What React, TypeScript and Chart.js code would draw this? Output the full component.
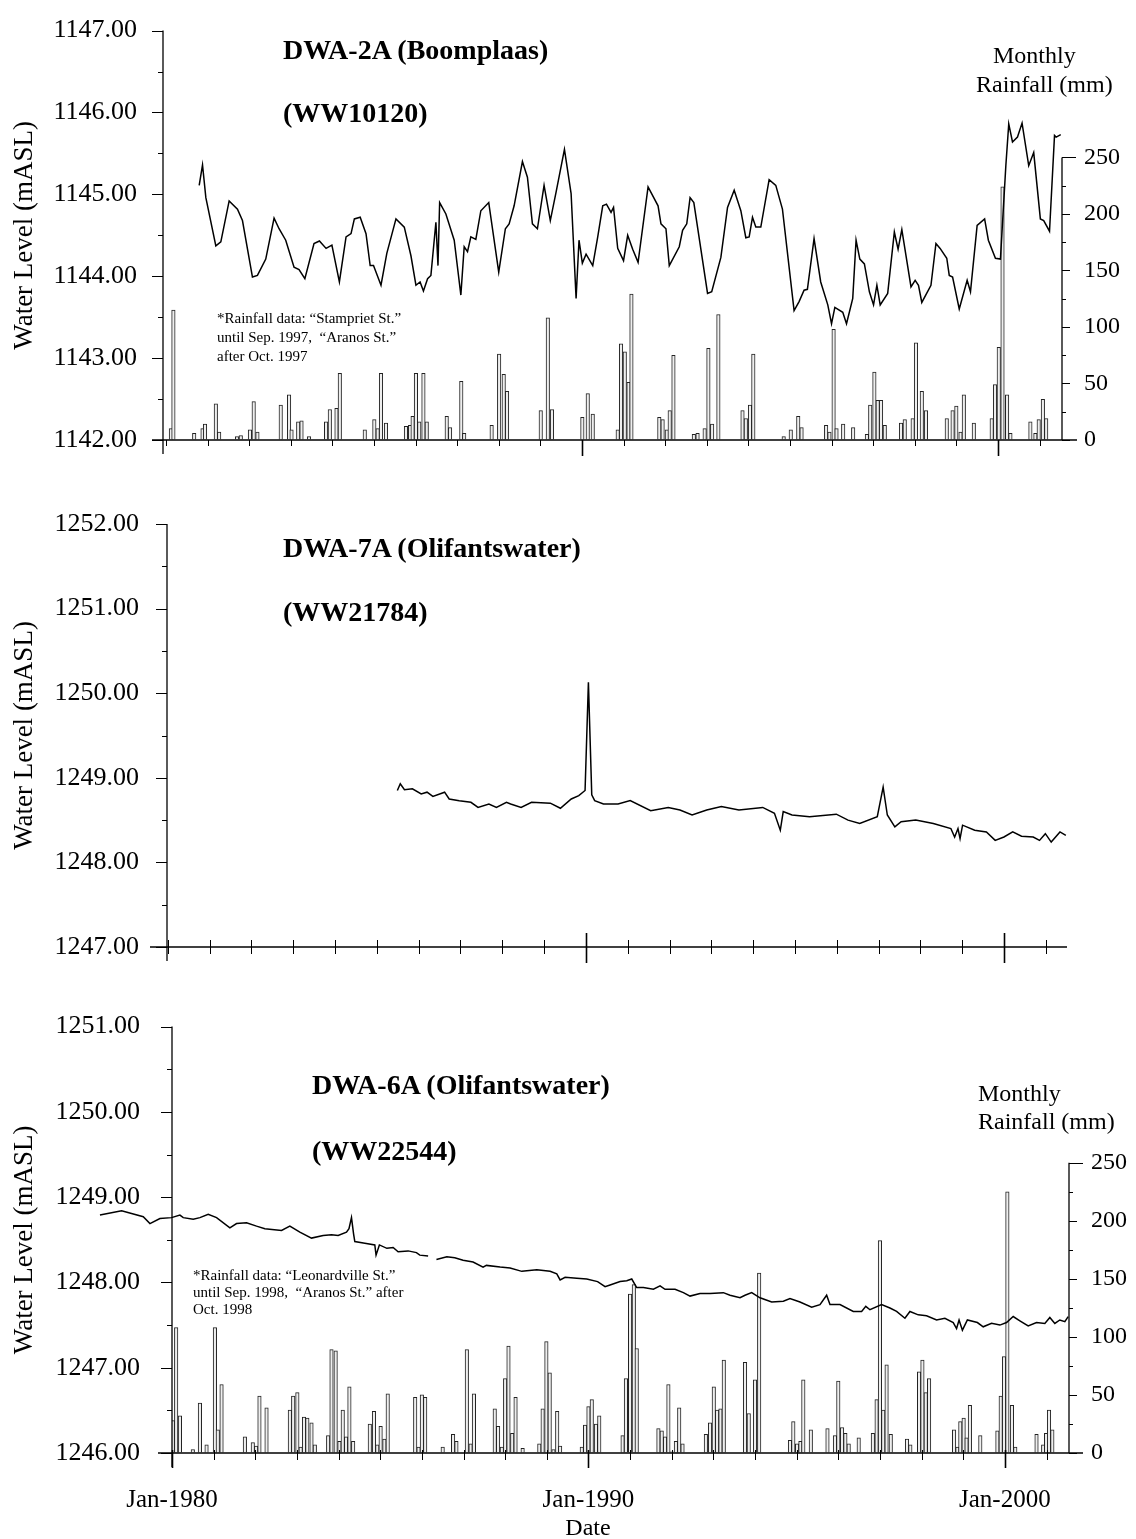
import React, { useEffect, useRef } from "react";
import { Chart, registerables } from "chart.js";

Chart.register(...registerables);

const FONT = "'Liberation Serif', 'Times New Roman', serif";

// ---------------- Panel 1: DWA-2A (Boomplaas) ----------------
const P1_LEVEL_YEARS = [
  1980.80, 1980.88, 1980.96, 1981.20, 1981.32, 1981.52, 1981.72, 1981.84, 1982.08, 1982.20,
  1982.40, 1982.60, 1982.72, 1982.88, 1983.08, 1983.20, 1983.34, 1983.56, 1983.69, 1983.85,
  1983.99, 1984.17, 1984.33, 1984.45, 1984.53, 1984.67, 1984.81, 1984.91, 1984.99, 1985.17,
  1985.31, 1985.53, 1985.73, 1985.89, 1986.01, 1986.11, 1986.19, 1986.29, 1986.37, 1986.49,
  1986.54, 1986.58, 1986.73, 1986.93, 1987.09, 1987.17, 1987.25, 1987.33, 1987.45, 1987.57,
  1987.76, 1988.00, 1988.16, 1988.25, 1988.37, 1988.57, 1988.69, 1988.81, 1988.93, 1989.09,
  1989.24, 1989.38, 1989.58, 1989.74, 1989.86, 1989.93, 1990.01, 1990.10, 1990.26, 1990.38,
  1990.50, 1990.59, 1990.70, 1990.76, 1990.86, 1991.00, 1991.10, 1991.22, 1991.35, 1991.59,
  1991.83, 1991.90, 1992.02, 1992.10, 1992.34, 1992.42, 1992.52, 1992.60, 1992.69, 1993.02,
  1993.12, 1993.34, 1993.50, 1993.66, 1993.82, 1993.94, 1994.02, 1994.10, 1994.18, 1994.30,
  1994.50, 1994.66, 1994.82, 1995.10, 1995.22, 1995.34, 1995.42, 1995.58, 1995.74, 1995.91,
  1996.00, 1996.08, 1996.27, 1996.36, 1996.51, 1996.59, 1996.68, 1996.79, 1996.91, 1997.01,
  1997.09, 1997.17, 1997.35, 1997.51, 1997.60, 1997.69, 1997.91, 1998.01, 1998.09, 1998.17,
  1998.39, 1998.51, 1998.61, 1998.77, 1998.83, 1998.91, 1999.07, 1999.26, 1999.34, 1999.50,
  1999.68, 1999.77, 1999.94, 2000.06, 2000.19, 2000.26, 2000.35, 2000.47, 2000.58, 2000.74,
  2000.86, 2001.02, 2001.10, 2001.24, 2001.36, 2001.40, 2001.51,
];
const P1_LEVEL_VALUES = [
  1145.11, 1145.36, 1144.96, 1144.37, 1144.42, 1144.92, 1144.82, 1144.68, 1143.99, 1144.01,
  1144.21, 1144.71, 1144.58, 1144.44, 1144.11, 1144.08, 1143.97, 1144.40, 1144.43, 1144.34,
  1144.38, 1143.93, 1144.48, 1144.52, 1144.70, 1144.72, 1144.52, 1144.13, 1144.13, 1143.89,
  1144.28, 1144.70, 1144.60, 1144.25, 1143.89, 1143.93, 1143.82, 1143.97, 1144.01, 1144.66,
  1144.13, 1144.90, 1144.76, 1144.44, 1143.77, 1144.36, 1144.30, 1144.48, 1144.45, 1144.80,
  1144.90, 1144.05, 1144.58, 1144.64, 1144.86, 1145.40, 1145.21, 1144.64, 1144.58, 1145.11,
  1144.68, 1145.03, 1145.55, 1145.01, 1143.73, 1144.44, 1144.16, 1144.27, 1144.13, 1144.48,
  1144.86, 1144.88, 1144.78, 1144.84, 1144.34, 1144.19, 1144.50, 1144.33, 1144.17, 1145.09,
  1144.86, 1144.64, 1144.58, 1144.13, 1144.36, 1144.56, 1144.64, 1144.96, 1144.90, 1143.79,
  1143.81, 1144.23, 1144.84, 1145.05, 1144.80, 1144.47, 1144.48, 1144.72, 1144.60, 1144.60,
  1145.18, 1145.11, 1144.82, 1143.58, 1143.69, 1143.83, 1143.84, 1144.46, 1143.93, 1143.65,
  1143.42, 1143.62, 1143.56, 1143.42, 1143.73, 1144.44, 1144.21, 1144.15, 1143.81, 1143.65,
  1143.89, 1143.65, 1143.79, 1144.54, 1144.33, 1144.57, 1143.87, 1143.95, 1143.89, 1143.68,
  1143.89, 1144.40, 1144.34, 1144.22, 1144.01, 1143.99, 1143.60, 1143.95, 1143.81, 1144.62,
  1144.70, 1144.44, 1144.22, 1144.21, 1145.35, 1145.86, 1145.64, 1145.70, 1145.87, 1145.35,
  1145.51, 1144.70, 1144.68, 1144.55, 1145.72, 1145.70, 1145.73,
];
const P1_RAIN_YEARS = [
  1980.12, 1980.18, 1980.68, 1980.88, 1980.94, 1981.20, 1981.28, 1981.71, 1981.80, 1982.02,
  1982.11, 1982.20, 1982.76, 1982.96, 1983.02, 1983.18, 1983.26, 1983.44, 1983.85, 1983.94,
  1984.10, 1984.18, 1984.78, 1985.01, 1985.09, 1985.17, 1985.29, 1985.77, 1985.87, 1985.93,
  1986.01, 1986.09, 1986.19, 1986.27, 1986.75, 1986.83, 1987.10, 1987.17, 1987.83, 1988.01,
  1988.12, 1988.20, 1989.01, 1989.18, 1989.28, 1990.01, 1990.14, 1990.26, 1990.86, 1990.94,
  1991.03, 1991.12, 1991.19, 1991.86, 1991.94, 1992.04, 1992.11, 1992.20, 1992.69, 1992.78,
  1992.95, 1993.04, 1993.13, 1993.28, 1993.86, 1993.94, 1994.04, 1994.12, 1994.85, 1995.02,
  1995.20, 1995.28, 1995.87, 1995.95, 1996.05, 1996.12, 1996.28, 1996.52, 1996.85, 1996.93,
  1997.03, 1997.11, 1997.19, 1997.28, 1997.67, 1997.76, 1997.95, 1998.03, 1998.17, 1998.27,
  1998.77, 1998.91, 1999.00, 1999.10, 1999.18, 1999.42, 1999.85, 1999.93, 2000.02, 2000.11,
  2000.22, 2000.30, 2000.78, 2000.90, 2000.98, 2001.08, 2001.16,
];
const P1_RAIN_MM = [
  10, 115, 6, 10, 14, 32, 7, 3, 4, 9,
  34, 7, 31, 40, 9, 16, 17, 3, 16, 27,
  28, 59, 9, 18, 10, 59, 15, 12, 13, 21,
  59, 16, 59, 16, 21, 11, 52, 6, 13, 76,
  58, 43, 26, 108, 27, 20, 41, 23, 9, 85,
  78, 51, 129, 20, 18, 9, 26, 75, 5, 6,
  10, 81, 14, 111, 26, 19, 31, 76, 3, 9,
  21, 11, 13, 7, 98, 10, 14, 11, 5, 31,
  60, 35, 35, 13, 15, 18, 19, 86, 43, 26,
  19, 26, 30, 7, 40, 15, 19, 49, 82, 224,
  40, 6, 16, 6, 18, 36, 19,
];

// ---------------- Panel 2: DWA-7A (Olifantswater) ----------------
const P2_LEVEL_YEARS = [
  1985.49, 1985.56, 1985.66, 1985.85, 1986.06, 1986.20, 1986.34, 1986.62, 1986.73, 1986.97,
  1987.25, 1987.42, 1987.68, 1987.86, 1988.10, 1988.20, 1988.45, 1988.70, 1989.15, 1989.39,
  1989.65, 1989.83, 1989.98, 1990.06, 1990.14, 1990.21, 1990.42, 1990.77, 1991.06, 1991.55,
  1991.97, 1992.25, 1992.54, 1992.89, 1993.24, 1993.66, 1994.23, 1994.51, 1994.65, 1994.72,
  1994.93, 1995.35, 1995.99, 1996.27, 1996.55, 1996.97, 1997.11, 1997.21, 1997.39, 1997.54,
  1997.89, 1998.31, 1998.73, 1998.82, 1998.90, 1998.95, 1999.01, 1999.30, 1999.58, 1999.79,
  2000.00, 2000.21, 2000.42, 2000.70, 2000.85, 2000.99, 2001.13, 2001.34, 2001.48,
];
const P2_LEVEL_VALUES = [
  1248.85, 1248.93, 1248.86, 1248.87, 1248.81, 1248.83, 1248.78, 1248.83, 1248.75, 1248.73,
  1248.71, 1248.65, 1248.69, 1248.65, 1248.71, 1248.69, 1248.65, 1248.71, 1248.70, 1248.64,
  1248.75, 1248.79, 1248.85, 1250.13, 1248.80, 1248.73, 1248.69, 1248.69, 1248.73, 1248.61,
  1248.65, 1248.62, 1248.56, 1248.62, 1248.66, 1248.62, 1248.65, 1248.58, 1248.38, 1248.60,
  1248.56, 1248.54, 1248.57, 1248.50, 1248.46, 1248.54, 1248.89, 1248.56, 1248.42, 1248.48,
  1248.50, 1248.46, 1248.40, 1248.30, 1248.40, 1248.28, 1248.44, 1248.38, 1248.36, 1248.26,
  1248.30, 1248.36, 1248.31, 1248.30, 1248.26, 1248.34, 1248.24, 1248.36, 1248.32,
];

// ---------------- Panel 3: DWA-6A (Olifantswater) ----------------
const P3_LEVEL_YEARS = [
  1978.27, 1978.79, 1979.31, 1979.47, 1979.71, 1979.99, 1980.19, 1980.27, 1980.51, 1980.67,
  1980.87, 1981.07, 1981.39, 1981.55, 1981.79, 1982.03, 1982.23, 1982.63, 1982.83, 1983.07,
  1983.35, 1983.63, 1983.83, 1983.99, 1984.19, 1984.25, 1984.31, 1984.36, 1984.39, 1984.63,
  1984.87, 1984.90, 1984.98, 1985.16, 1985.31, 1985.43, 1985.67, 1985.87, 1985.95, 1986.15,
  1986.25, 1986.35, 1986.60, 1986.79, 1986.99, 1987.23, 1987.47, 1987.55, 1987.88, 1988.12,
  1988.40, 1988.76, 1989.08, 1989.24, 1989.32, 1989.44, 1989.72, 1989.96, 1990.22, 1990.40,
  1990.52, 1990.76, 1990.92, 1991.04, 1991.16, 1991.32, 1991.56, 1991.72, 1991.84, 1992.08,
  1992.28, 1992.44, 1992.68, 1992.92, 1993.24, 1993.40, 1993.64, 1993.76, 1993.92, 1994.12,
  1994.40, 1994.68, 1994.84, 1995.08, 1995.36, 1995.56, 1995.72, 1995.80, 1996.04, 1996.36,
  1996.56, 1996.66, 1996.76, 1997.04, 1997.24, 1997.40, 1997.60, 1997.72, 1997.92, 1998.12,
  1998.36, 1998.56, 1998.76, 1998.84, 1998.90, 1998.98, 1999.10, 1999.34, 1999.48, 1999.68,
  1999.88, 2000.04, 2000.20, 2000.36, 2000.56, 2000.76, 2000.96, 2001.08, 2001.20, 2001.32,
  2001.44, 2001.52,
];
const P3_LEVEL_VALUES = [
  1248.79, 1248.84, 1248.77, 1248.69, 1248.75, 1248.76, 1248.79, 1248.76, 1248.74, 1248.76,
  1248.80, 1248.76, 1248.64, 1248.69, 1248.70, 1248.66, 1248.63, 1248.61, 1248.66, 1248.59,
  1248.52, 1248.55, 1248.56, 1248.55, 1248.59, 1248.63, 1248.76, 1248.57, 1248.48, 1248.46,
  1248.44, 1248.32, 1248.44, 1248.40, 1248.41, 1248.36, 1248.37, 1248.35, 1248.32, 1248.31,
  null, 1248.27, 1248.30, 1248.29, 1248.26, 1248.24, 1248.18, 1248.20, 1248.18, 1248.17,
  1248.13, 1248.15, 1248.13, 1248.10, 1248.03, 1248.06, 1248.05, 1248.04, 1248.01, 1247.95,
  1247.97, 1248.01, 1248.02, 1248.04, 1247.94, 1247.94, 1247.92, 1247.96, 1247.92, 1247.92,
  1247.88, 1247.84, 1247.87, 1247.87, 1247.88, 1247.85, 1247.82, 1247.85, 1247.88, 1247.82,
  1247.77, 1247.78, 1247.81, 1247.77, 1247.71, 1247.74, 1247.85, 1247.74, 1247.74, 1247.66,
  1247.66, 1247.72, 1247.68, 1247.74, 1247.70, 1247.66, 1247.58, 1247.66, 1247.62, 1247.61,
  1247.56, 1247.58, 1247.53, 1247.46, 1247.56, 1247.44, 1247.56, 1247.53, 1247.48, 1247.52,
  1247.50, 1247.53, 1247.60, 1247.55, 1247.49, 1247.53, 1247.52, 1247.59, 1247.52, 1247.56,
  1247.54, 1247.60,
];
const P3_RAIN_YEARS = [
  1980.02, 1980.10, 1980.19, 1980.50, 1980.67, 1980.83, 1981.03, 1981.10, 1981.19, 1981.75,
  1981.94, 1982.02, 1982.10, 1982.27, 1982.83, 1982.91, 1983.01, 1983.09, 1983.17, 1983.25,
  1983.35, 1983.43, 1983.75, 1983.83, 1983.93, 1984.02, 1984.10, 1984.18, 1984.26, 1984.35,
  1984.75, 1984.85, 1984.93, 1985.01, 1985.10, 1985.18, 1985.84, 1985.92, 1986.00, 1986.08,
  1986.50, 1986.75, 1986.83, 1987.08, 1987.17, 1987.25, 1987.75, 1987.83, 1987.92, 1988.00,
  1988.08, 1988.17, 1988.25, 1988.42, 1988.82, 1988.90, 1988.99, 1989.07, 1989.16, 1989.25,
  1989.32, 1989.84, 1989.92, 1990.00, 1990.08, 1990.18, 1990.26, 1990.82, 1990.90, 1991.00,
  1991.09, 1991.16, 1991.68, 1991.76, 1991.84, 1991.92, 1992.00, 1992.10, 1992.18, 1992.26,
  1992.82, 1992.92, 1993.01, 1993.09, 1993.17, 1993.25, 1993.76, 1993.85, 1994.00, 1994.10,
  1994.84, 1994.92, 1995.01, 1995.09, 1995.16, 1995.34, 1995.74, 1995.92, 1996.00, 1996.09,
  1996.17, 1996.25, 1996.49, 1996.83, 1996.92, 1997.00, 1997.08, 1997.16, 1997.26, 1997.65,
  1997.73, 1997.94, 1998.02, 1998.10, 1998.18, 1998.78, 1998.86, 1998.93, 1999.01, 1999.08,
  1999.16, 1999.41, 1999.82, 1999.90, 1999.98, 2000.06, 2000.17, 2000.25, 2000.76, 2000.92,
  2000.99, 2001.06, 2001.14,
];
const P3_RAIN_MM = [
  28, 108, 32, 3, 43, 7, 108, 20, 59, 14,
  9, 6, 49, 39, 37, 49, 52, 5, 31, 30,
  26, 7, 15, 89, 88, 10, 37, 14, 57, 10,
  25, 36, 7, 23, 12, 51, 48, 5, 50, 48,
  5, 16, 10, 89, 8, 51, 38, 23, 5, 64,
  92, 17, 48, 4, 8, 38, 96, 69, 3, 36,
  6, 5, 24, 40, 46, 25, 32, 15, 64, 137,
  145, 90, 21, 19, 14, 59, 1, 10, 39, 8,
  16, 26, 57, 37, 38, 80, 78, 34, 63, 155,
  11, 27, 8, 10, 63, 20, 21, 15, 62, 22,
  17, 8, 13, 17, 46, 183, 37, 76, 16, 12,
  7, 70, 80, 52, 64, 20, 5, 27, 30, 13,
  41, 15, 19, 49, 83, 225, 41, 5, 16, 7,
  17, 37, 20,
];

const LEFT_TICK_STEP = 1;
const RAIN_TICKS = [0, 50, 100, 150, 200, 250];
const X_LABEL_YEARS = [1980, 1990, 2000];

type Spec = {
  top: number;
  height: number;
  levelYears: number[];
  levelValues: (number | null)[];
  rainYears?: number[];
  rainMm?: number[];
  yMin: number;
  yMax: number;
  y2Max?: number;
  xMin: number;
  xMax: number;
  leftWidth: number;
  rightWidth: number;
  padTop: number;
  padBottom: number;
  padRight: number;
  labelPad: number;
  xLabels: boolean;
  xAxisHeight: number;
  smallUp: number;
  smallDown: number;
  bigUp: number;
  bigDown: number;
  bigYears: number[];
  xLineLeft: number;
  xLineRight: number;
};

function axesPlugin(spec: Spec) {
  return {
    id: "customAxes",
    afterDraw(chart: any) {
      const { ctx, chartArea: ca, scales } = chart;
      const xs = scales.x;
      const ys = scales.y;
      const y2 = scales.y2;
      ctx.save();
      ctx.strokeStyle = "#000";
      ctx.lineWidth = 1.3;
      ctx.beginPath();
      ctx.moveTo(ca.left, ca.top);
      ctx.lineTo(ca.left, ca.bottom + 14);
      ctx.stroke();
      ctx.lineWidth = 1;
      for (let v = spec.yMin; v <= spec.yMax + 1e-9; v += 0.5) {
        const py = Math.round(ys.getPixelForValue(v)) + 0.5;
        const major = Math.abs(v - Math.round(v)) < 1e-6;
        ctx.beginPath();
        ctx.moveTo(ca.left - (major ? 11 : 5), py);
        ctx.lineTo(ca.left, py);
        ctx.stroke();
      }
      ctx.lineWidth = 1.3;
      ctx.beginPath();
      ctx.moveTo(ca.left - spec.xLineLeft, ca.bottom);
      ctx.lineTo(ca.right + spec.xLineRight, ca.bottom);
      ctx.stroke();
      for (let yr = 1980; yr <= 2001; yr++) {
        const px = Math.round(xs.getPixelForValue(yr)) + 0.5;
        const big = spec.bigYears.includes(yr);
        ctx.lineWidth = big ? 1.6 : 1;
        ctx.beginPath();
        ctx.moveTo(px, ca.bottom - (big ? spec.bigUp : spec.smallUp));
        ctx.lineTo(px, ca.bottom + (big ? spec.bigDown : spec.smallDown));
        ctx.stroke();
      }
      if (y2) {
        const topPx = y2.getPixelForValue(250);
        ctx.lineWidth = 1.3;
        ctx.beginPath();
        ctx.moveTo(ca.right, topPx);
        ctx.lineTo(ca.right, ca.bottom);
        ctx.stroke();
        ctx.lineWidth = 1;
        for (let v = 0; v <= 250; v += 25) {
          const py = Math.round(y2.getPixelForValue(v)) + 0.5;
          const len = v === 250 ? 14 : v % 50 === 0 ? 8 : 4;
          ctx.beginPath();
          ctx.moveTo(ca.right, py);
          ctx.lineTo(ca.right + len, py);
          ctx.stroke();
        }
      }
      ctx.restore();
    },
  };
}

function buildConfig(spec: Spec): any {
  const datasets: any[] = [];
  datasets.push({
    type: "line",
    label: "Water level (mASL)",
    data: spec.levelYears.map((x, i) => ({ x, y: spec.levelValues[i] })),
    xAxisID: "x",
    yAxisID: "y",
    borderColor: "#000",
    borderWidth: 1.5,
    pointRadius: 0,
    tension: 0,
    spanGaps: false,
    clip: false,
    order: 1,
  });
  if (spec.rainYears && spec.rainMm) {
    const mm = spec.rainMm;
    datasets.push({
      type: "bar",
      label: "Monthly rainfall (mm)",
      data: spec.rainYears.map((x, i) => ({ x, y: mm[i] })),
      xAxisID: "x",
      yAxisID: "y2",
      backgroundColor: "#eeeeee",
      borderColor: "#222",
      borderWidth: 1,
      barThickness: 3.5,
      order: 2,
    });
  }
  const tickFont = { family: FONT, size: 26 };
  const scales: any = {
    x: {
      type: "linear",
      offset: false,
      bounds: "data",
      display: spec.xLabels,
      // range set after data limits so that the early part of a record can run past the axis
      afterDataLimits: (s: any) => {
        s.min = spec.xMin;
        s.max = spec.xMax;
      },
      afterBuildTicks: (s: any) => {
        s.ticks = X_LABEL_YEARS.map((v) => ({ value: v }));
      },
      afterFit: (s: any) => {
        s.height = spec.xAxisHeight;
      },
      ticks: {
        callback: (v: any) => "Jan-" + v,
        font: { family: FONT, size: 25 },
        color: "#000",
        padding: 32,
        maxRotation: 0,
        autoSkip: false,
      },
      grid: { display: true, offset: false, drawOnChartArea: false, drawTicks: false, color: "transparent" },
      border: { display: false },
    },
    y: {
      type: "linear",
      position: "left",
      min: spec.yMin,
      max: spec.yMax,
      afterBuildTicks: (s: any) => {
        const t: any[] = [];
        for (let v = spec.yMin; v <= spec.yMax + 1e-9; v += LEFT_TICK_STEP) t.push({ value: v });
        s.ticks = t;
      },
      afterFit: (s: any) => {
        s.width = spec.leftWidth;
      },
      ticks: {
        callback: (v: any) => Number(v).toFixed(2),
        font: tickFont,
        color: "#000",
        padding: spec.labelPad,
      },
      grid: {
        display: true,
        drawOnChartArea: false,
        drawTicks: true,
        tickLength: 11,
        tickColor: "transparent",
        color: "transparent",
      },
      border: { display: false },
      title: {
        display: true,
        text: "Water Level (mASL)",
        font: { family: FONT, size: 27 },
        color: "#000",
        padding: { top: 9, bottom: 0 },
      },
    },
  };
  if (spec.rainYears) {
    scales.y2 = {
      type: "linear",
      position: "right",
      min: 0,
      max: spec.y2Max,
      afterBuildTicks: (s: any) => {
        s.ticks = RAIN_TICKS.map((v) => ({ value: v }));
      },
      afterFit: (s: any) => {
        s.width = spec.rightWidth;
      },
      ticks: {
        font: { family: FONT, size: 24 },
        color: "#000",
        padding: 14,
      },
      grid: {
        display: true,
        drawOnChartArea: false,
        drawTicks: true,
        tickLength: 8,
        tickColor: "transparent",
        color: "transparent",
      },
      border: { display: false },
    };
  }
  return {
    type: "line",
    data: { datasets },
    options: {
      responsive: false,
      animation: false,
      events: [],
      layout: {
        padding: { top: spec.padTop, bottom: spec.padBottom, left: 0, right: spec.padRight },
      },
      plugins: { legend: { display: false }, tooltip: { enabled: false }, title: { display: false } },
      scales,
    },
    plugins: [axesPlugin(spec)],
  };
}

const PANEL1: Spec = {
  top: 0,
  height: 480,
  levelYears: P1_LEVEL_YEARS,
  levelValues: P1_LEVEL_VALUES,
  rainYears: P1_RAIN_YEARS,
  rainMm: P1_RAIN_MM,
  yMin: 1142,
  yMax: 1147,
  y2Max: 362.2,
  xMin: 1979.93,
  xMax: 2001.54,
  leftWidth: 163,
  rightWidth: 74,
  padTop: 17,
  padBottom: 40,
  padRight: 0,
  labelPad: 15,
  xLabels: false,
  xAxisHeight: 0,
  smallUp: 0,
  smallDown: 6,
  bigUp: 0,
  bigDown: 16,
  bigYears: [1990, 2000],
  xLineLeft: 11,
  xLineRight: 15,
};

const PANEL2: Spec = {
  top: 490,
  height: 490,
  levelYears: P2_LEVEL_YEARS,
  levelValues: P2_LEVEL_VALUES,
  yMin: 1247,
  yMax: 1252,
  xMin: 1979.98,
  xMax: 2001.46,
  leftWidth: 167,
  rightWidth: 0,
  padTop: 34,
  padBottom: 33,
  padRight: 71,
  labelPad: 17,
  xLabels: false,
  xAxisHeight: 0,
  smallUp: 7,
  smallDown: 7,
  bigUp: 14,
  bigDown: 16,
  bigYears: [1990, 2000],
  xLineLeft: 17,
  xLineRight: 2,
};

const PANEL3: Spec = {
  top: 990,
  height: 549,
  levelYears: P3_LEVEL_YEARS,
  levelValues: P3_LEVEL_VALUES,
  rainYears: P3_RAIN_YEARS,
  rainMm: P3_RAIN_MM,
  yMin: 1246,
  yMax: 1251,
  y2Max: 367.3,
  xMin: 1980,
  xMax: 2001.54,
  leftWidth: 172,
  rightWidth: 67,
  padTop: 34,
  padBottom: 0,
  padRight: 0,
  labelPad: 21,
  xLabels: true,
  xAxisHeight: 86,
  smallUp: 3,
  smallDown: 7,
  bigUp: 3,
  bigDown: 15,
  bigYears: [1980, 1990, 2000],
  xLineLeft: 14,
  xLineRight: 14,
};

function Panel({ spec }: { spec: Spec }) {
  const ref = useRef<HTMLCanvasElement | null>(null);
  useEffect(() => {
    if (!ref.current) return;
    const chart = new Chart(ref.current, buildConfig(spec));
    return () => chart.destroy();
  }, [spec]);
  return (
    <canvas
      ref={ref}
      width={1136}
      height={spec.height}
      style={{ position: "absolute", left: 0, top: spec.top, width: 1136, height: spec.height }}
    />
  );
}

function Txt({
  left,
  top,
  size,
  bold,
  lh,
  center,
  children,
}: {
  left: number;
  top: number;
  size: number;
  bold?: boolean;
  lh?: number;
  center?: boolean;
  children: React.ReactNode;
}) {
  return (
    <div
      style={{
        position: "absolute",
        left,
        top,
        fontFamily: FONT,
        fontSize: size,
        fontWeight: bold ? "bold" : "normal",
        lineHeight: lh ? `${lh}px` : 1,
        whiteSpace: "pre",
        color: "#000",
        transform: center ? "translateX(-50%)" : undefined,
      }}
    >
      {children}
    </div>
  );
}

export default function App() {
  return (
    <div
      style={{
        position: "absolute",
        left: 0,
        top: 0,
        width: 1136,
        height: 1539,
        background: "#fff",
        overflow: "hidden",
      }}
    >
      <Panel spec={PANEL1} />
      <Panel spec={PANEL2} />
      <Panel spec={PANEL3} />

      <Txt left={283} top={36} size={28} bold>DWA-2A (Boomplaas)</Txt>
      <Txt left={283} top={99} size={28} bold>(WW10120)</Txt>
      <Txt left={993} top={43} size={24}>Monthly</Txt>
      <Txt left={976} top={72} size={24}>Rainfall (mm)</Txt>
      <Txt left={217} top={309} size={15} lh={19}>
        {"*Rainfall data: \u201cStampriet St.\u201d\nuntil Sep. 1997,  \u201cAranos St.\u201d\nafter Oct. 1997"}
      </Txt>

      <Txt left={283} top={534} size={28} bold>DWA-7A (Olifantswater)</Txt>
      <Txt left={283} top={598} size={28} bold>(WW21784)</Txt>

      <Txt left={312} top={1071} size={28} bold>DWA-6A (Olifantswater)</Txt>
      <Txt left={312} top={1137} size={28} bold>(WW22544)</Txt>
      <Txt left={978} top={1081} size={24}>Monthly</Txt>
      <Txt left={978} top={1109} size={24}>Rainfall (mm)</Txt>
      <Txt left={193} top={1267} size={15} lh={17}>
        {"*Rainfall data: \u201cLeonardville St.\u201d\nuntil Sep. 1998,  \u201cAranos St.\u201d after\nOct. 1998"}
      </Txt>
      <Txt left={588} top={1515} size={24} center>Date</Txt>
    </div>
  );
}
